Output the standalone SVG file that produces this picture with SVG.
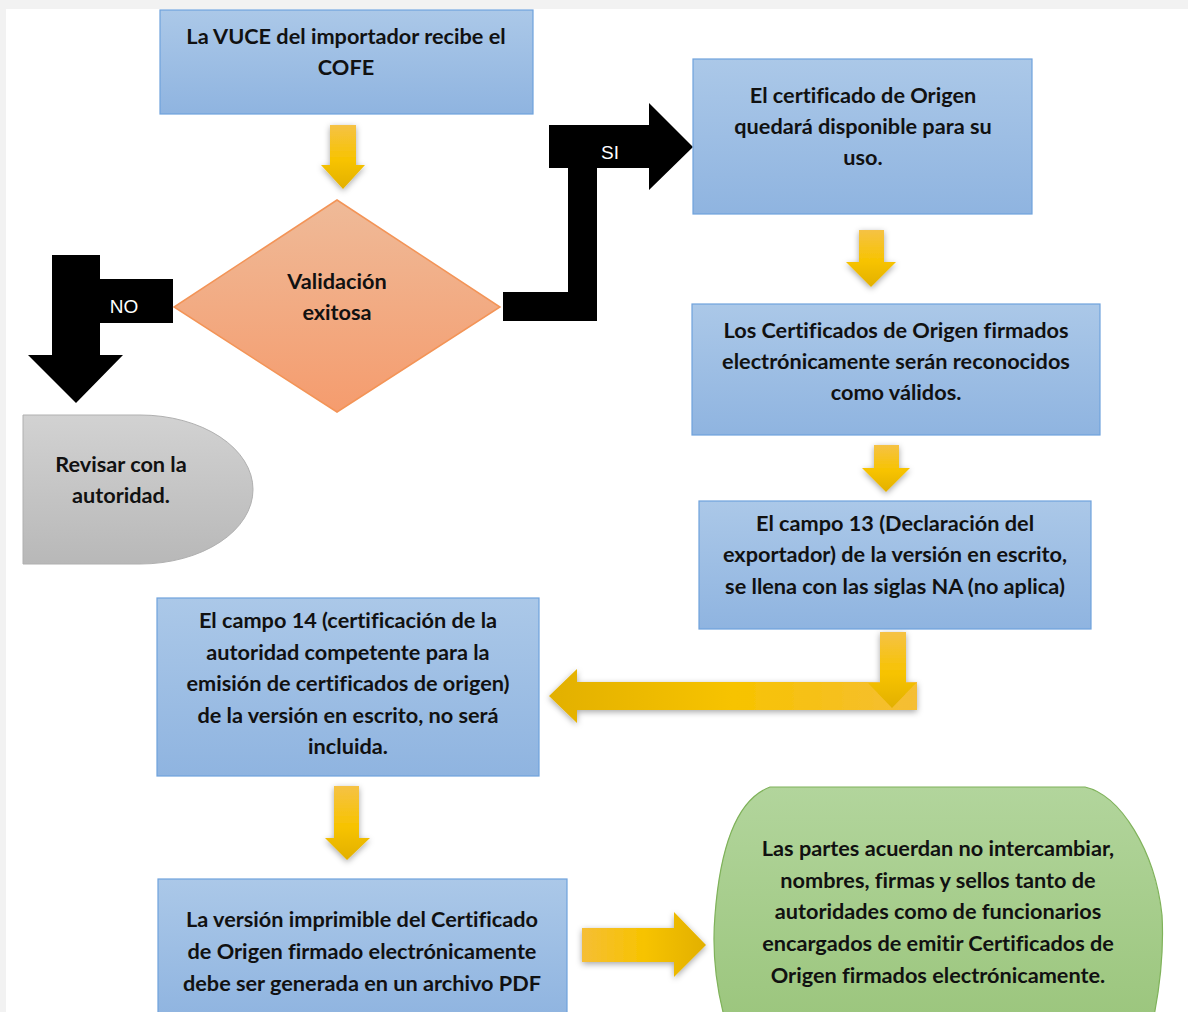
<svg xmlns="http://www.w3.org/2000/svg" width="1188" height="1012" viewBox="0 0 1188 1012">
<defs>
<linearGradient id="gBlue" x1="0" y1="0" x2="0" y2="1">
<stop offset="0" stop-color="#abc8e8"/><stop offset="1" stop-color="#8fb4e0"/>
</linearGradient>
<linearGradient id="gDiamond" x1="0" y1="0" x2="0" y2="1">
<stop offset="0" stop-color="#efba98"/><stop offset="1" stop-color="#f59c6e"/>
</linearGradient>
<linearGradient id="gGray" x1="0" y1="0" x2="0" y2="1">
<stop offset="0" stop-color="#d2d2d2"/><stop offset="1" stop-color="#b8b8b8"/>
</linearGradient>
<linearGradient id="gGreen" x1="0" y1="0" x2="0" y2="1">
<stop offset="0" stop-color="#b2d59c"/><stop offset="1" stop-color="#9cc67e"/>
</linearGradient>
<linearGradient id="gYv" x1="0" y1="0" x2="0" y2="1">
<stop offset="0" stop-color="#f5c245"/><stop offset="0.55" stop-color="#f7c300"/><stop offset="1" stop-color="#e2b000"/>
</linearGradient>
<linearGradient id="gYl" x1="0" y1="0" x2="1" y2="0">
<stop offset="0" stop-color="#e2b000"/><stop offset="0.5" stop-color="#f7c300"/><stop offset="1" stop-color="#f5be35"/>
</linearGradient>
<linearGradient id="gYr" x1="0" y1="0" x2="1" y2="0">
<stop offset="0" stop-color="#f5be35"/><stop offset="0.5" stop-color="#f7c300"/><stop offset="1" stop-color="#e2b000"/>
</linearGradient>
<filter id="shadow" x="-30%" y="-30%" width="160%" height="160%">
<feDropShadow dx="0" dy="2" stdDeviation="3" flood-color="#000" flood-opacity="0.35"/>
</filter>
</defs>
<style>
.box{fill:url(#gBlue);stroke:#6fa2dc;stroke-width:1.2}
.t{font-family:Lato,"Liberation Sans",sans-serif;font-weight:bold;font-size:21.7px;fill:#111;text-anchor:middle;font-variant-ligatures:none}
.w{font-family:"Liberation Sans",Arial,sans-serif;font-size:19px;fill:#fff;text-anchor:middle}
.blk{fill:#000}
</style>
<rect x="0" y="0" width="1188" height="1012" fill="#f2f2f2"/>
<rect x="6" y="9" width="1182" height="1003" fill="#fff"/>

<g id="connectors">
<path class="blk" d="M52 255 L100 255 L100 279 L173 279 L173 323 L100 323 L100 355 L123 355 L76 403 L28 355 L52 355 Z"/>
<text class="w" x="124" y="313">NO</text>
<path class="blk" d="M503 292 L568 292 L568 168 L549 168 L549 125 L649 125 L649 103 L693 147 L649 190 L649 168 L597 168 L597 321 L503 321 Z"/>
<text class="w" x="610" y="159">SI</text>
<g filter="url(#shadow)">
<path fill="url(#gYv)" d="M330 125 L356 125 L356 165 L365 165 L343 189 L321 165 L330 165 Z"/>
<path fill="url(#gYv)" d="M859 230 L884 230 L884 262 L896 262 L871 287 L846 262 L859 262 Z"/>
<path fill="url(#gYv)" d="M874 445 L899 445 L899 468 L910 468 L886 492 L862 468 L874 468 Z"/>
<path fill="url(#gYl)" d="M577 682 L917 682 L917 710 L577 710 L577 723 L549 696 L577 669 Z"/>
<path fill="url(#gYv)" d="M880 632 L906 632 L906 683 L916 683 L892 708 L868 683 L880 683 Z"/>
<path fill="url(#gYv)" d="M334 786 L359 786 L359 838 L370 838 L347 860 L325 838 L334 838 Z"/>
<path fill="url(#gYr)" d="M582 928 L674 928 L674 912 L706 945 L674 977 L674 962 L582 962 Z"/>
</g>
</g>

<g id="n1">
<rect class="box" x="160" y="10" width="373" height="104"/>
<text class="t" x="346" y="44">La VUCE del importador recibe el</text>
<text class="t" x="346" y="75">COFE</text>
</g>
<g id="n2">
<path d="M337 200 L500 307 L337 412 L174 307 Z" fill="url(#gDiamond)" stroke="#f39457" stroke-width="1.5"/>
<text class="t" x="337" y="289">Validación</text>
<text class="t" x="337" y="320">exitosa</text>
</g>
<g id="n3">
<path d="M23 415 L140 415 A113 74.5 0 0 1 140 564 L23 564 Z" fill="url(#gGray)" stroke="#b0b0b0" stroke-width="1"/>
<text class="t" x="121" y="472">Revisar con la</text>
<text class="t" x="121" y="503">autoridad.</text>
</g>
<g id="n4">
<rect class="box" x="693" y="59" width="339" height="155"/>
<text class="t" x="863" y="103">El certificado de Origen</text>
<text class="t" x="863" y="134">quedará disponible para su</text>
<text class="t" x="863" y="165">uso.</text>
</g>
<g id="n5">
<rect class="box" x="692" y="304" width="408" height="131"/>
<text class="t" x="896" y="338">Los Certificados de Origen firmados</text>
<text class="t" x="896" y="369">electrónicamente serán reconocidos</text>
<text class="t" x="896" y="400">como válidos.</text>
</g>
<g id="n6">
<rect class="box" x="699" y="501" width="392" height="128"/>
<text class="t" x="895" y="531">El campo 13 (Declaración del</text>
<text class="t" x="895" y="562">exportador) de la versión en escrito,</text>
<text class="t" x="895" y="594">se llena con las siglas NA (no aplica)</text>
</g>
<g id="n7">
<rect class="box" x="157" y="598" width="382" height="178"/>
<text class="t" x="348" y="628">El campo 14 (certificación de la</text>
<text class="t" x="348" y="660">autoridad competente para la</text>
<text class="t" x="348" y="691">emisión de certificados de origen)</text>
<text class="t" x="348" y="723">de la versión en escrito, no será</text>
<text class="t" x="348" y="754">incluida.</text>
</g>
<g id="n8">
<rect class="box" x="158" y="879" width="409" height="140"/>
<text class="t" x="362" y="927">La versión imprimible del Certificado</text>
<text class="t" x="362" y="959">de Origen firmado electrónicamente</text>
<text class="t" x="362" y="991">debe ser generada en un archivo PDF</text>
</g>
<g id="n9">
<path d="M724 1016 C716 985 712 950 715 915 C720 850 735 800 770 787 L1085 787 C1120 795 1155 850 1162 915 C1164 950 1160 985 1154 1016 Z" fill="url(#gGreen)" stroke="#7fb25a" stroke-width="1.2"/>
<text class="t" x="938" y="856">Las partes acuerdan no intercambiar,</text>
<text class="t" x="938" y="888">nombres, firmas y sellos tanto de</text>
<text class="t" x="938" y="919">autoridades como de funcionarios</text>
<text class="t" x="938" y="951">encargados de emitir Certificados de</text>
<text class="t" x="938" y="983">Origen firmados electrónicamente.</text>
</g>
</svg>
